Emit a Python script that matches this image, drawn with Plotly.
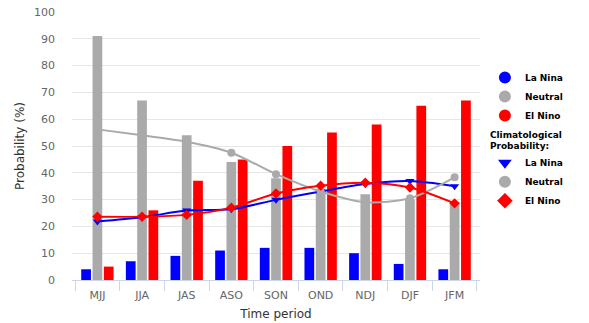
import plotly.graph_objects as go

periods = ["MJJ", "JJA", "JAS", "ASO", "SON", "OND", "NDJ", "DJF", "JFM"]
la_nina = [4, 7, 9, 11, 12, 12, 10, 6, 4]
neutral = [91, 67, 54, 44, 38, 34, 32, 30, 29]
el_nino = [5, 26, 37, 45, 50, 55, 58, 65, 67]
clim_la_nina = [21.8, 23.4, 25.9, 26.4, 29.9, 33, 35.8, 36.9, 35]
clim_neutral = [56.2, 54, 51.6, 47.5, 39.5, 33, 29, 30.5, 38.3]
clim_el_nino = [23.6, 23.6, 24.3, 27, 32.3, 35.2, 36.3, 34.5, 28.6]

BLUE, GRAY, RED = "#0000ff", "#aaaaaa", "#ff0000"
FONT = "DejaVu Sans"

fig = go.Figure()
for name, vals, col in [("La Nina", la_nina, BLUE), ("Neutral", neutral, GRAY), ("El Nino", el_nino, RED)]:
    fig.add_trace(go.Bar(x=periods, y=vals, name=name, marker_color=col,
                         marker_line_width=0, showlegend=False))
clim = [("La Nina", clim_la_nina, BLUE, "triangle-down"),
        ("Neutral", clim_neutral, GRAY, "circle"),
        ("El Nino", clim_el_nino, RED, "diamond")]
for name, vals, col, sym in clim:
    fig.add_trace(go.Scatter(x=periods, y=vals, name=name, mode="lines+markers",
                             line=dict(color=col, width=2, shape="spline", smoothing=0.8),
                             marker=dict(color=col, symbol=sym, size=8),
                             showlegend=False))
# legend entries (marker only, like the reference)
for name, col in [("La Nina", BLUE), ("Neutral", GRAY), ("El Nino", RED)]:
    fig.add_trace(go.Scatter(x=[None], y=[None], mode="markers", name=name,
                             marker=dict(color=col, symbol="circle", size=10),
                             legendgroup="fc"))
for i, (name, vals, col, sym) in enumerate(clim):
    fig.add_trace(go.Scatter(x=[None], y=[None], mode="markers", name=name,
                             marker=dict(color=col, symbol=sym, size=9),
                             legendgroup="clim",
                             legendgrouptitle_text="Climatological<br>Probability:" if i == 0 else None))

fig.update_layout(
    width=589, height=323,
    margin=dict(l=72, r=109, t=12, b=43, autoexpand=False),
    paper_bgcolor="white", plot_bgcolor="white",
    barmode="group", bargap=0.24, bargroupgap=0.14,
    font=dict(family=FONT, size=11, color="#666666"),
    legend=dict(x=1.012, y=0.81, xanchor="left", yanchor="top",
                font=dict(family=FONT, size=9, color="#000000", weight="bold"),
                grouptitlefont=dict(family=FONT, size=9, color="#000000", weight="bold"),
                tracegroupgap=2, itemsizing="constant", itemwidth=30,
                bgcolor="rgba(0,0,0,0)"),
    xaxis=dict(title=dict(text="Time period", font=dict(size=12, color="#333333"), standoff=8),
               automargin=False,
               showline=True, linecolor="#ccd6eb", linewidth=1,
               ticks="outside", tickson="boundaries", tickcolor="#ccd6eb", ticklen=10,
               ticklabelstandoff=5,
               tickfont=dict(size=11, color="#666666"), showgrid=False),
    yaxis=dict(title=dict(text="Probability (%)", font=dict(size=12, color="#333333"), standoff=6),
               automargin=False,
               range=[0, 100], dtick=10, gridcolor="#e6e6e6", gridwidth=1,
               zeroline=False, showline=False, ticklabelstandoff=16,
               ticklabeloverflow="allow",
               tickfont=dict(size=11, color="#666666")),
)

fig.write_html("out.html", config={"displayModeBar": False},
               post_script="document.body.style.margin='0';")
